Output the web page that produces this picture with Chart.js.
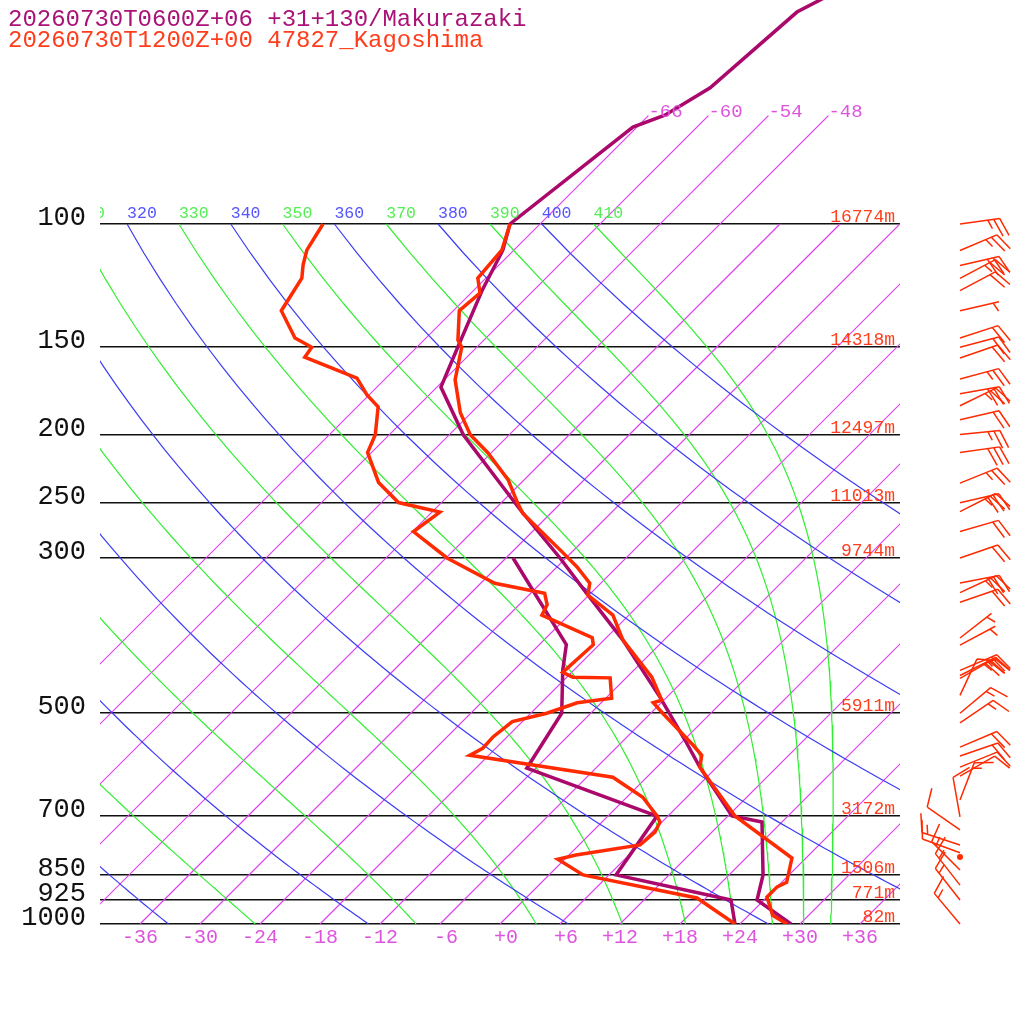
<!DOCTYPE html>
<html><head><meta charset="utf-8">
<script src="https://cdn.jsdelivr.net/npm/chart.js@4.4.1/dist/chart.umd.min.js"></script>
<style>html,body{margin:0;padding:0;background:#fff}#wrap{width:1024px;height:1024px}</style>
</head><body><div id="wrap"><canvas id="c" width="1024" height="1024"></canvas></div>
<script>
// ---------- text ----------
const titleLines = ["20260730T0600Z+06 +31+130/Makurazaki", "20260730T1200Z+00 47827_Kagoshima"];
// ---------- axes ----------
const pressureTicks = [100, 150, 200, 250, 300, 500, 700, 850, 925, 1000];
const heightLabels = ["16774m", "14318m", "12497m", "11013m", "9744m", "5911m", "3172m", "1506m", "771m", "82m"];
const tempTicks = [-36, -30, -24, -18, -12, -6, 0, 6, 12, 18, 24, 30, 36];
const isotherms = [-66, -60, -54, -48, -42, -36, -30, -24, -18, -12, -6, 0, 6, 12, 18, 24, 30, 36];
const isothermLabels = [-66, -60, -54, -48];
const dryThetas = [240, 260, 280, 300, 320, 340, 360, 380, 400];
const moistThetas = [250, 270, 290, 310, 330, 350, 370, 390, 410];
// ---------- Makurazaki (purple) ----------
const makTempP = [1000, 924, 851, 715, 701, 597, 546, 474, 393, 337, 300, 256, 200, 171, 150, 124, 109, 100, 72.7, 69.9, 63.9, 49.8, 40];
const makTempT = [29.1, 23.3, 21.4, 16.0, 12.4, 4.3, 0.1, -6.7, -16.1, -24.4, -30.6, -39.4, -52.6, -59.6, -61.9, -65.2, -67.1, -69.0, -66.4, -64.4, -62.6, -61.5, -55.4];
const makDewP = [1000, 924, 851, 701, 599, 500, 434, 399, 300];
const makDewT = [23.5, 20.7, 6.7, 4.9, -12.9, -14.9, -19.1, -21.3, -35.3];
// ---------- Kagoshima (orange) ----------
const kagTempP = [1000, 972, 915, 885, 872, 805, 701, 597, 574, 555, 500, 483, 479, 444, 393, 362, 339, 326, 309, 295, 259, 250, 232, 212, 200, 186, 167, 150, 146.5, 133, 125.5, 119.5, 109, 100];
const kagTempT = [28.7, 26.4, 24.0, 24.0, 24.5, 22.6, 12.7, 4.3, 3.3, 1.4, -4.8, -6.8, -6.2, -9.5, -16.1, -19.6, -24.1, -25.1, -28.0, -30.8, -38.8, -40.4, -43.6, -48.4, -51.9, -55.1, -58.9, -61.5, -62.6, -65.4, -65.1, -66.8, -67.2, -69.0];
const kagDewP = [1000, 918, 851, 808, 797, 771, 739, 715, 701, 659, 617, 574, 561, 540, 514, 500, 483, 476, 445, 444, 437, 399, 390, 362, 350, 337, 326, 300, 275, 258, 250, 234, 212, 200, 182.5, 175.5, 166, 155, 150, 145.5, 133, 119.5, 114.4, 109, 100];
const kagDewT = [23.5, 17.1, 3.4, -0.7, 0.7, 6.1, 6.3, 5.8, 4.9, 1.6, -3.4, -19.9, -19.3, -19.4, -19.0, -16.4, -14.4, -11.4, -13.6, -17.4, -18.9, -18.6, -19.4, -26.7, -27.2, -28.6, -34.6, -41.9, -47.9, -47.2, -52.3, -56.3, -60.4, -61.4, -63.9, -66.2, -68.9, -76.2, -76.5, -79.1, -83.2, -84.4, -85.6, -86.7, -87.7];
// ---------- winds (Kagoshima) ----------
const windP = [100, 109.1, 114.6, 119.6, 124.5, 133, 145.5, 150, 155.4, 166.5, 174.8, 181.8, 190.4, 199.9, 212, 234.5, 250.2, 257.6, 274.9, 300, 325.8, 336.2, 347.1, 390.3, 399.5, 434.2, 441.6, 445.8, 471.4, 500, 516, 558.8, 575.5, 596.8, 614.8, 665, 703, 734, 771, 791, 802, 837, 880, 924, 1000];
const windDir = [82, 67, 77, 62, 62, 77, 72, 75, 71, 75, 80, 64, 77, 84, 82, 68, 77, 63, 74, 71, 79, 65, 71, 52, 62, 67, 63, 60, 25, 50, 56, 67, 71, 68, 60, 21, 350, 305, 288, 290, 0, 315, 322, 322, 320];
const windSpd = [25, 25, 30, 25, 20, 5, 20, 20, 20, 25, 30, 25, 20, 25, 30, 25, 30, 25, 20, 20, 30, 25, 20, 5, 5, 25, 30, 25, 10, 15, 15, 20, 20, 10, 10, 15, 10, 10, 15, 10, 0, 15, 15, 15, 15];

// ---------- constants / helpers ----------
const SKEW = 70;               // degC of x shift per decade of pressure (45 deg skew)
const Rd = 287.04, Cp = 1005.7, Lv = 2.501e6, EPS = 0.622, KAPPA = Rd / Cp;
const P_TOP = 1000 / Math.pow(10, 924 / 700);
function skewX(t, p) { return t + SKEW * Math.log10(1000 / p); }
function profile(ps, ts) { return ps.map((p, i) => ({ x: skewX(ts[i], p), y: p })); }
function satMix(Tk, p) { const tc = Tk - 273.15; const es = 6.112 * Math.exp(17.67 * tc / (tc + 243.5)); return EPS * es / (p - es); }
function dTdp(Tk, p) { const rs = satMix(Tk, p); return (Rd * Tk + Lv * rs) / (p * (Cp + Lv * Lv * rs * EPS / (Rd * Tk * Tk))); }
function moistLine(theta) {
  let T = theta * Math.pow(0.1, KAPPA), p = 100;
  const pts = [{ x: skewX(T - 273.15, p), y: p }];
  while (p < 1000) {
    const k1 = dTdp(T, p), k2 = dTdp(T + k1 * 0.5, p + 0.5);
    T += k2; p += 1;
    if (p % 10 === 0) pts.push({ x: skewX(T - 273.15, p), y: p });
  }
  return pts;
}
function dryLine(theta) {
  const pts = [];
  for (let p = 100; p <= 1000; p += 10) pts.push({ x: skewX(theta * Math.pow(p / 1000, KAPPA) - 273.15, p), y: p });
  return pts;
}
function isoLine(t) { const top = isothermLabels.includes(t) ? 70 : 100; return [{ x: skewX(t, 1000), y: 1000 }, { x: skewX(t, top), y: top }]; }

const COL_ISO = 'rgb(222,64,240)', COL_DRY = 'rgb(60,60,245)', COL_MOIST = 'rgb(50,238,50)';
const COL_PURP = 'rgb(170,8,106)', COL_ORG = 'rgb(255,42,0)';
const MONO = '"Liberation Mono", "DejaVu Sans Mono", monospace';

const lineDs = (data, color, width) => ({ data, showLine: true, borderColor: color, backgroundColor: color, borderWidth: width, pointRadius: 0, clip: 0, fill: false, tension: 0 });
const datasets = [];
datasets.push(lineDs(profile(kagTempP, kagTempT), COL_ORG, 3.5));
datasets.push(lineDs(profile(kagDewP, kagDewT), COL_ORG, 3.5));
datasets.push(lineDs(profile(makTempP, makTempT), COL_PURP, 3.5));
datasets.push(lineDs(profile(makDewP, makDewT), COL_PURP, 3.5));
dryThetas.forEach(th => datasets.push(lineDs(dryLine(th), COL_DRY, 1.2)));
moistThetas.forEach(th => datasets.push(lineDs(moistLine(th), COL_MOIST, 1.2)));
isotherms.forEach(t => datasets.push(lineDs(isoLine(t), COL_ISO, 1.2)));

function drawBarb(ctx, x0, y0, dir, spd) {
  if (spd <= 0) { ctx.beginPath(); ctx.arc(x0, y0, 3, 0, Math.PI * 2); ctx.fill(); return; }
  const L = 40, r = dir * Math.PI / 180;
  const ux = Math.sin(r), uy = -Math.cos(r), px = Math.cos(r), py = Math.sin(r);
  const tx = x0 + ux * L, ty = y0 + uy * L;
  ctx.beginPath(); ctx.moveTo(x0, y0); ctx.lineTo(tx, ty);
  let s = Math.round(spd / 5) * 5, pos = 0;
  while (s >= 10) {
    const bx = tx - ux * pos, by = ty - uy * pos;
    ctx.moveTo(bx, by); ctx.lineTo(bx + ux * 7 + px * 18, by + uy * 7 + py * 18);
    pos += 6; s -= 10;
  }
  if (s >= 5) {
    if (pos === 0) pos = 6;
    const bx = tx - ux * pos, by = ty - uy * pos;
    ctx.moveTo(bx, by); ctx.lineTo(bx + ux * 3.5 + px * 9, by + uy * 3.5 + py * 9);
  }
  ctx.stroke();
}

function fmtTemp(v) { const s = v < 0 ? '-' + Math.abs(v) : '+' + v; return s.length < 3 ? ' ' + s : s; }

const decor = {
  id: 'decor',
  afterDatasetsDraw(chart) {
    const ctx = chart.ctx, xs = chart.scales.x, ys = chart.scales.y, ca = chart.chartArea;
    ctx.save();
    ctx.textBaseline = 'alphabetic';
    // titles
    ctx.font = '24px ' + MONO; ctx.textAlign = 'left';
    ctx.fillStyle = '#aa1277'; ctx.fillText(titleLines[0], 8, 26);
    ctx.fillStyle = '#ff3d1c'; ctx.fillText(titleLines[1], 8, 47);
    // pressure labels
    ctx.font = '27px ' + MONO; ctx.textAlign = 'right'; ctx.fillStyle = '#111';
    pressureTicks.forEach(p => ctx.fillText(String(p), ca.left - 14, ys.getPixelForValue(p) + 1));
    // temperature labels
    ctx.font = '20px ' + MONO; ctx.textAlign = 'center'; ctx.fillStyle = '#dd55dd';
    tempTicks.forEach(t => ctx.fillText(fmtTemp(t), xs.getPixelForValue(t), ca.bottom + 19));
    // theta labels at 100 hPa (clipped to plot)
    ctx.save();
    ctx.beginPath(); ctx.rect(ca.left, 0, ca.right - ca.left, ca.bottom); ctx.clip();
    ctx.textAlign = 'left';
    ctx.font = '16.5px ' + MONO;
    const y100 = ys.getPixelForValue(100);
    dryThetas.forEach(th => {
      const x = xs.getPixelForValue(skewX(th * Math.pow(0.1, KAPPA) - 273.15, 100));
      ctx.fillStyle = '#5555ff'; ctx.fillText(String(th), x, y100 - 6);
    });
    moistThetas.forEach(th => {
      const x = xs.getPixelForValue(skewX(th * Math.pow(0.1, KAPPA) - 273.15, 100));
      ctx.fillStyle = '#55ee55'; ctx.fillText(String(th), x, y100 - 6);
    });
    // isotherm labels
    ctx.font = '19px ' + MONO;
    const y70 = ys.getPixelForValue(70);
    isothermLabels.forEach(t => {
      const x = xs.getPixelForValue(skewX(t, 70));
      ctx.fillStyle = '#dd55dd'; ctx.fillText(String(t), x, y70 + 1);
    });
    ctx.restore();
    // height labels
    ctx.font = '18px ' + MONO; ctx.textAlign = 'right'; ctx.fillStyle = '#ff3d1c';
    pressureTicks.forEach((p, i) => ctx.fillText(heightLabels[i], ca.right - 5, ys.getPixelForValue(p) - 2));
    // wind barbs
    ctx.strokeStyle = COL_ORG; ctx.fillStyle = COL_ORG; ctx.lineWidth = 1.5;
    windP.forEach((p, i) => drawBarb(ctx, 960, ys.getPixelForValue(p), windDir[i], windSpd[i]));
    ctx.restore();
  }
};

new Chart(document.getElementById('c'), {
  type: 'scatter',
  data: { datasets },
  options: {
    responsive: false, animation: false, events: [],
    layout: { padding: { left: 0, right: 124, top: 0, bottom: 0 } },
    plugins: { legend: { display: false }, tooltip: { enabled: false }, colors: { enabled: false } },
    scales: {
      x: {
        type: 'linear', min: -40, max: 40,
        grid: { display: false }, border: { display: false },
        afterBuildTicks: s => { s.ticks = tempTicks.map(v => ({ value: v })); },
        afterFit: s => { s.height = 100; },
        ticks: { display: false }
      },
      y: {
        type: 'logarithmic', reverse: true, min: P_TOP, max: 1000,
        grid: { color: '#111', lineWidth: 1.6, drawTicks: false }, border: { display: false },
        afterBuildTicks: s => { s.ticks = pressureTicks.map(v => ({ value: v })); },
        afterFit: s => { s.width = 100; },
        ticks: { display: false }
      }
    }
  },
  plugins: [decor]
});
</script>
</body></html>
